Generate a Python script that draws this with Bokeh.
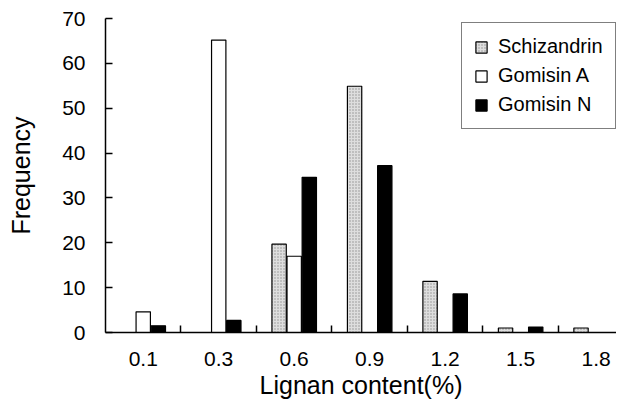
from bokeh.plotting import figure
from bokeh.models import Range1d, FixedTicker, Legend, LegendItem
from bokeh.embed import file_html
from bokeh.resources import INLINE

categories = ["0.1", "0.3", "0.6", "0.9", "1.2", "1.5", "1.8"]
schizandrin = [0, 0, 19.7, 54.9, 11.4, 1.0, 1.0]
gomisin_a = [4.6, 65.2, 17.0, 0, 0, 0, 0]
gomisin_n = [1.5, 2.7, 34.6, 37.2, 8.6, 1.2, 0]
y_ticks = [0, 10, 20, 30, 40, 50, 60, 70]

FONT = "Liberation Sans"

p = figure(width=616, height=402, output_backend="svg", toolbar_location=None,
           x_range=Range1d(0, 6.77), y_range=Range1d(0, 70),
           min_border_left=105, min_border_right=0, min_border_top=18, min_border_bottom=70)
p.outline_line_color = None
p.xgrid.visible = False
p.ygrid.visible = False
p.background_fill_color = "white"

n = len(categories)
centers = [i + 0.5 for i in range(n)]
w = 0.19
r1 = p.vbar(x=[c - 0.2 for c in centers], top=schizandrin, width=w,
            fill_color="#dedede", hatch_pattern="dot", hatch_color="#909090",
            hatch_scale=3, line_color="black", line_width=1.2)
r2 = p.vbar(x=centers, top=gomisin_a, width=w,
            fill_color="white", line_color="black", line_width=1.2)
r3 = p.vbar(x=[c + 0.2 for c in centers], top=gomisin_n, width=w,
            fill_color="black", line_color="black", line_width=1.2)

# x axis
xa = p.xaxis[0]
xa.ticker = FixedTicker(ticks=centers, minor_ticks=[float(i) for i in range(1, n)])
xa.major_label_overrides = {c: lab for c, lab in zip(centers, categories)}
xa.major_tick_line_color = None
xa.minor_tick_in = 7
xa.minor_tick_out = 0
xa.minor_tick_line_color = "black"
xa.minor_tick_line_width = 1.5
xa.axis_line_width = 1.5
xa.axis_line_color = "black"
xa.major_label_text_font = FONT
xa.major_label_text_font_size = "21px"
xa.major_label_text_color = "black"
xa.major_label_standoff = 13
xa.axis_label = "Lignan content(%)"
xa.axis_label_text_font = FONT
xa.axis_label_text_font_size = "25px"
xa.axis_label_text_font_style = "normal"
xa.axis_label_text_color = "black"
xa.axis_label_standoff = 2

# y axis
ya = p.yaxis[0]
ya.ticker = FixedTicker(ticks=y_ticks)
ya.major_tick_in = 7
ya.major_tick_out = 0
ya.minor_tick_line_color = None
ya.major_tick_line_width = 1.5
ya.axis_line_width = 1.5
ya.axis_line_color = "black"
ya.major_label_text_font = FONT
ya.major_label_text_font_size = "21px"
ya.major_label_text_color = "black"
ya.major_label_standoff = 20
ya.axis_label = "Frequency"
ya.axis_label_text_font = FONT
ya.axis_label_text_font_size = "25px"
ya.axis_label_text_font_style = "normal"
ya.axis_label_text_color = "black"
ya.axis_label_standoff = 24

legend = Legend(items=[LegendItem(label="Schizandrin", renderers=[r1]),
                       LegendItem(label="Gomisin A", renderers=[r2]),
                       LegendItem(label="Gomisin N", renderers=[r3])],
                location=(356, 203))
legend.label_text_font = FONT
legend.label_text_font_size = "20px"
legend.label_text_color = "black"
legend.glyph_width = 14
legend.glyph_height = 14
legend.label_height = 20
legend.label_standoff = 10
legend.padding = 12
legend.spacing = 6
legend.margin = 0
legend.border_line_color = "black"
legend.border_line_width = 1.2
legend.background_fill_alpha = 1.0
p.add_layout(legend, "center")

open("out.html", "w").write(file_html(p, INLINE))
